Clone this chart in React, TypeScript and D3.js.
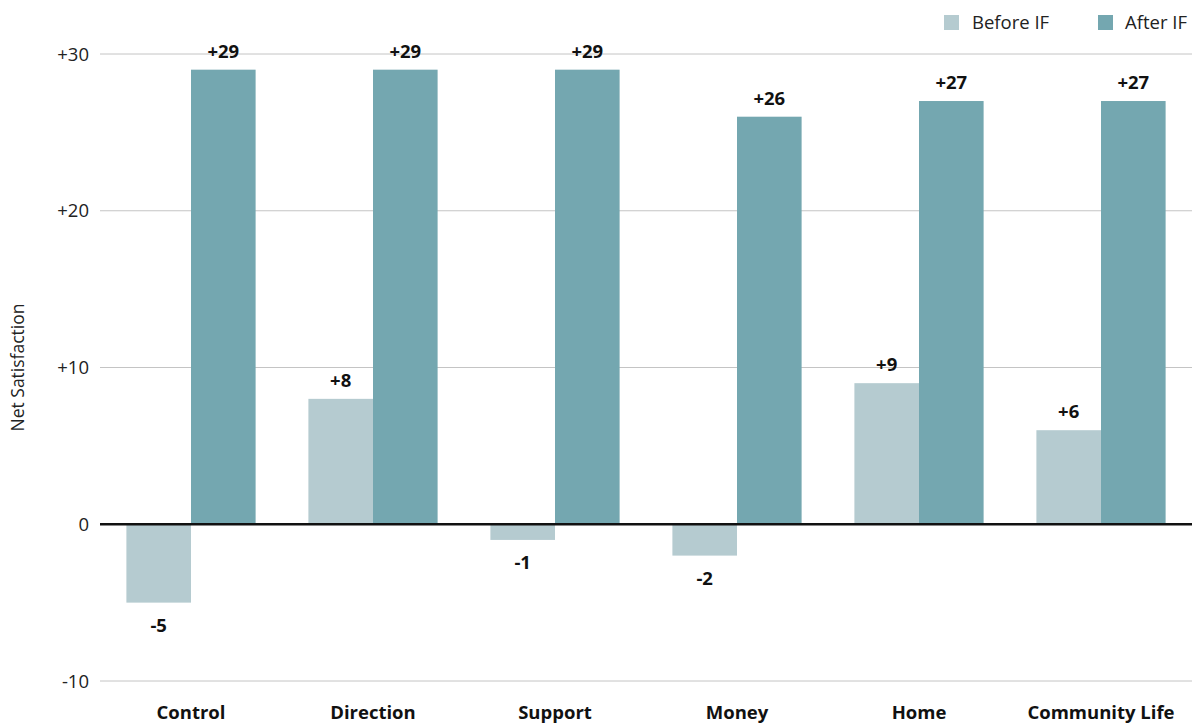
import React from "react";
import * as d3 from "d3";

const categories = ["Control", "Direction", "Support", "Money", "Home", "Community Life"];
const beforeIF = [-5, 8, -1, -2, 9, 6];
const afterIF = [29, 29, 29, 26, 27, 27];
const yTicks = [-10, 0, 10, 20, 30];
const seriesNames = ["Before IF", "After IF"];
const colors = ["#b5cbd0", "#74a7b0"];

const W = 1198, H = 724;
const FONT = "'Open Sans', 'Noto Sans', sans-serif";

const fmt = (v: number) => (v > 0 ? `+${v}` : `${v}`);

export default function App() {
  const x = d3.scaleBand<string>().domain(categories).range([100, 1192]).paddingInner(0.29).paddingOuter(0.145);
  const inner = d3.scaleBand<number>().domain([0, 1]).range([0, x.bandwidth()]);
  const y = d3.scaleLinear().domain([-10, 30]).range([681, 54]);
  const series = [beforeIF, afterIF];

  return (
    <svg width={W} height={H} style={{ position: "absolute", left: 0, top: 0, fontFamily: FONT }}>
      <rect width={W} height={H} fill="#fff" />
      {yTicks.map((t) => (
        <g key={t}>
          {t !== 0 && <line x1={100} x2={1192} y1={y(t)} y2={y(t)} stroke="#c4c4c4" strokeWidth={1} />}
          <text x={89} y={y(t)} dy="0.36em" textAnchor="end" fontSize={18.5} fill="#222">{t > 0 ? `+${t}` : `${t}`}</text>
        </g>
      ))}
      <text transform={`translate(24,${y(10)}) rotate(-90)`} textAnchor="middle" fontSize={17.5} fill="#222">Net Satisfaction</text>
      {categories.map((c, i) => (
        <g key={c}>
          {series.map((s, k) => {
            const v = s[i];
            const bx = (x(c) as number) + (inner(k) as number);
            const top = y(Math.max(0, v));
            const bot = y(Math.min(0, v));
            return (
              <g key={k}>
                <rect x={bx} y={top} width={inner.bandwidth()} height={bot - top} fill={colors[k]} />
                <text
                  x={bx + inner.bandwidth() / 2}
                  y={v >= 0 ? top - 12 : bot + 29}
                  textAnchor="middle"
                  fontSize={18.5}
                  fontWeight="bold"
                  fill="#111"
                >
                  {fmt(v)}
                </text>
              </g>
            );
          })}
          <text x={(x(c) as number) + x.bandwidth() / 2} y={719} textAnchor="middle" fontSize={18.5} fontWeight="bold" fill="#111">{c}</text>
        </g>
      ))}
      <line x1={100} x2={1192} y1={y(0)} y2={y(0)} stroke="#111" strokeWidth={2.5} />
      {seriesNames.map((n, k) => {
        const lx = [944, 1098][k];
        const tx = [972, 1125][k];
        return (
          <g key={n}>
            <rect x={lx} y={15} width={15} height={15} fill={colors[k]} />
            <text x={tx} y={29} fontSize={18.5} fill="#222">{n}</text>
          </g>
        );
      })}
    </svg>
  );
}
